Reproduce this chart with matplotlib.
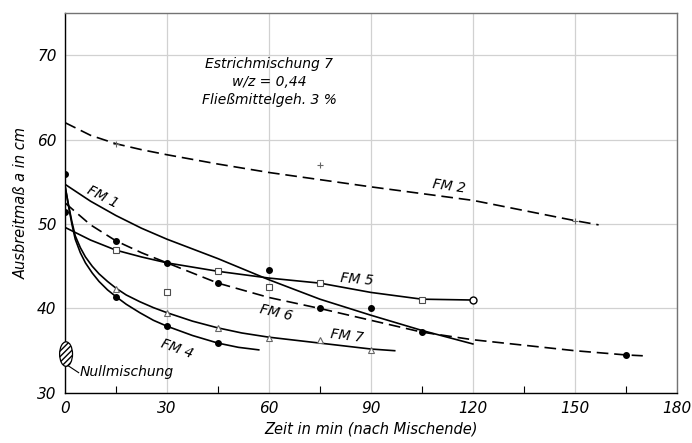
import numpy as np
import matplotlib
matplotlib.use("Agg")
import matplotlib.pyplot as plt
from matplotlib.patches import Ellipse

# Kurvenverlauf
fm1_x = [0, 7.5, 15, 22.5, 30, 45, 60, 75, 90, 105, 120]
fm1_y = [54.7, 52.7, 51.0, 49.5, 48.2, 45.9, 43.4, 41.1, 39.2, 37.4, 35.8]
fm2_x = [0, 7.5, 15, 22.5, 30, 45, 60, 90, 120, 150, 157]
fm2_y = [62.0, 60.5, 59.5, 58.8, 58.2, 57.1, 56.1, 54.4, 52.8, 50.4, 49.9]
fm4_x = [0, 1, 2, 3, 4.5, 6, 8, 10, 12.5, 15, 18, 22, 26, 30, 37.5, 45, 51, 57]
fm4_y = [54.5, 52.2, 50.0, 48.2, 46.6, 45.4, 44.2, 43.2, 42.2, 41.4, 40.5, 39.5, 38.6, 37.9, 36.8, 35.9, 35.4, 35.1]
fm5_x = [0, 7.5, 15, 22.5, 30, 45, 60, 75, 90, 105, 120]
fm5_y = [49.6, 48.1, 46.9, 46.1, 45.4, 44.4, 43.6, 43.0, 41.9, 41.1, 41.0]
fm6_x = [0, 7.5, 15, 22.5, 30, 45, 60, 75, 90, 105, 120, 150, 165, 170]
fm6_y = [52.5, 49.9, 48.0, 46.6, 45.4, 43.0, 41.3, 40.0, 38.6, 37.2, 36.3, 35.0, 34.5, 34.4]
fm7_x = [0, 1, 2, 3, 4.5, 6, 8, 10, 12.5, 15, 18, 22, 26, 30, 37.5, 45, 52, 60, 75, 90, 97]
fm7_y = [54.5, 52.3, 50.3, 48.6, 47.2, 46.1, 45.0, 44.1, 43.2, 42.4, 41.6, 40.8, 40.1, 39.5, 38.5, 37.7, 37.1, 36.6, 35.9, 35.2, 35.0]

# Messpunkte
fm2_px = [15, 75, 150]
fm2_py = [59.5, 57.0, 50.4]
filled_x = [0, 0, 15, 30, 45, 60, 75, 90, 105, 165, 15, 30, 45]
filled_y = [55.9, 51.4, 48.0, 45.4, 43.0, 44.5, 40.0, 40.0, 37.2, 34.5, 41.4, 37.9, 35.9]
square_x = [15, 30, 45, 60, 75, 105]
square_y = [46.9, 42.0, 44.4, 42.6, 43.0, 41.0]
tri_x = [15, 30, 45, 60, 75, 90]
tri_y = [42.3, 39.5, 37.7, 36.5, 36.3, 35.1]
circ_x = [120]
circ_y = [41.0]

plt.rcParams['font.family'] = 'DejaVu Sans'
plt.rcParams['font.style'] = 'italic'

fig = plt.figure(figsize=(6.92, 4.43), dpi=100)
ax = fig.add_axes([0.094, 0.113, 0.884, 0.858])

dash = (0, (7, 3.5))
ax.plot(fm1_x, fm1_y, color='k', lw=1.2)
ax.plot(fm2_x, fm2_y, color='k', lw=1.2, linestyle=dash)
ax.plot(fm4_x, fm4_y, color='k', lw=1.2)
ax.plot(fm5_x, fm5_y, color='k', lw=1.2)
ax.plot(fm6_x, fm6_y, color='k', lw=1.2, linestyle=dash)
ax.plot(fm7_x, fm7_y, color='k', lw=1.2)

ax.plot(fm2_px, fm2_py, '+', color='0.4', ms=5, mew=0.8)
ax.plot(filled_x, filled_y, 'o', color='k', ms=4)
ax.plot(square_x, square_y, 's', mfc='white', mec='0.3', ms=3.8, mew=0.8)
ax.plot(tri_x, tri_y, '^', mfc='white', mec='0.4', ms=3.8, mew=0.8)
ax.plot(circ_x, circ_y, 'o', mfc='white', mec='k', ms=5, mew=1)

# Nullmischung
ax.add_patch(Ellipse((0.3, 34.6), 3.8, 2.9, facecolor='white', edgecolor='k',
                     hatch='//////', lw=0.9, clip_on=False, zorder=5))
ax.plot([1.0, 4.0], [33.2, 32.4], color='k', lw=0.8)
ax.text(4.2, 32.5, 'Nullmischung', fontsize=10, va='center', ha='left')

# Beschriftung der Kurven
ax.text(11, 53.2, 'FM 1', fontsize=10, rotation=-27, ha='center', va='center')
ax.text(113, 54.4, 'FM 2', fontsize=10, rotation=-8, ha='center', va='center')
ax.text(33, 35.2, 'FM 4', fontsize=10, rotation=-20, ha='center', va='center')
ax.text(86, 43.4, 'FM 5', fontsize=10, rotation=-5, ha='center', va='center')
ax.text(62, 39.5, 'FM 6', fontsize=10, rotation=-13, ha='center', va='center')
ax.text(83, 36.7, 'FM 7', fontsize=10, rotation=-7, ha='center', va='center')

ax.text(60, 68.9, 'Estrichmischung 7', fontsize=10, ha='center', va='center')
ax.text(60, 66.8, 'w/z = 0,44', fontsize=10, ha='center', va='center')
ax.text(60, 64.7, 'Fließmittelgeh. 3 %', fontsize=10, ha='center', va='center')

ax.set_xlim(0, 180)
ax.set_ylim(30, 75)
ax.set_xticks([0, 30, 60, 90, 120, 150, 180])
ax.set_xticks([15, 45, 75, 105, 135, 165], minor=True)
ax.set_yticks([30, 40, 50, 60, 70])
ax.tick_params(axis='both', which='major', direction='in', length=0, labelsize=11, pad=6)
ax.tick_params(axis='x', which='minor', direction='in', length=5, width=0.8)
ax.grid(True, which='major', color='0.82', lw=0.9)

for s in ax.spines.values():
    s.set_linewidth(1.0)
for s in ['top', 'right']:
    ax.spines[s].set_color('0.45')

ax.set_xlabel('Zeit in min (nach Mischende)', fontsize=10.5, labelpad=4)
ax.set_ylabel('Ausbreitmaß a in cm', fontsize=10.5, labelpad=6)

fig.savefig('out.png', dpi=100)
